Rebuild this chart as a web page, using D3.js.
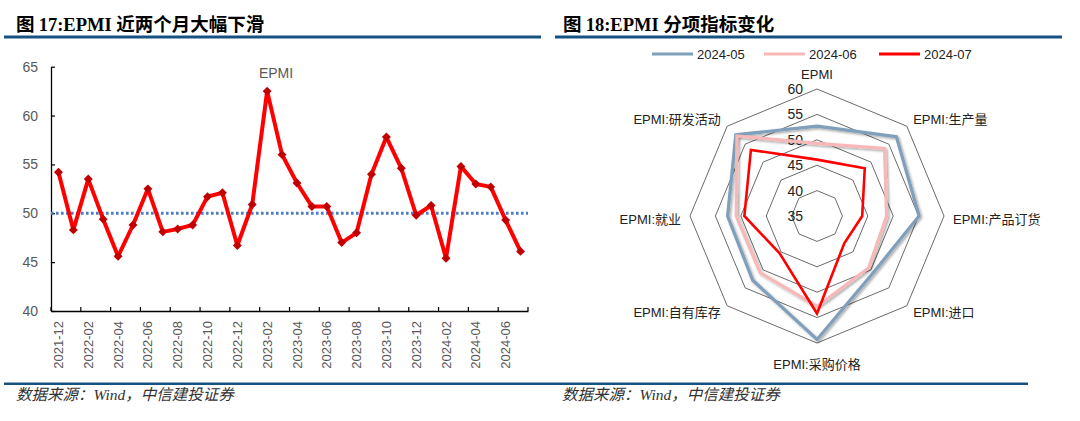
<!DOCTYPE html>
<html><head><meta charset="utf-8">
<script src="https://cdn.jsdelivr.net/npm/d3@7"></script>
<style>
body{margin:0;background:#fff;}
svg{display:block;}
</style></head>
<body>
<svg id="chart" width="1080" height="421"></svg>
<script>
// ---------- data ----------
const months = ["2021-12","2022-01","2022-02","2022-03","2022-04","2022-05","2022-06","2022-07","2022-08","2022-09","2022-10","2022-11","2022-12",
"2023-01","2023-02","2023-03","2023-04","2023-05","2023-06","2023-07","2023-08","2023-09","2023-10","2023-11","2023-12",
"2024-01","2024-02","2024-03","2024-04","2024-05","2024-06","2024-07"];
const epmi = [54.2,48.3,53.5,49.4,45.6,48.8,52.5,48.1,48.4,48.8,51.7,52.1,46.7,50.9,62.5,56.0,53.1,50.7,50.7,47.0,48.0,54.0,57.8,54.6,49.8,50.8,45.4,54.8,53.0,52.7,49.3,46.1];
const yTicks = [40,45,50,55,60,65];
const refLine = 50;

const radarCats = ["EPMI","EPMI:生产量","EPMI:产品订货","EPMI:进口","EPMI:采购价格","EPMI:自有库存","EPMI:就业","EPMI:研发活动"];
const radarSeries = ["2024-05","2024-06","2024-07"];
const may24 = [52.7,57.1,55.1,50.7,59.3,52.9,52.6,57.6];
const jun24 = [49.3,53.8,48.7,49.4,52.8,50.8,50.9,57.3];
const jul24 = [46.1,48.3,43.9,42.6,54.2,45.4,49.3,53.4];
const radarTicks = [35,40,45,50,55,60];

// ---------- setup ----------
const svg = d3.select("#chart");
const CJK = "'Noto Sans CJK SC','Noto Sans',sans-serif";
const SANS = "'Liberation Sans',Arial,'Noto Sans CJK SC',sans-serif";
const SERIF = "'Liberation Serif','Times New Roman',serif";
const frameBlue = "#165281";

const defs = svg.append("defs");
const f = defs.append("filter").attr("id","shadow").attr("x","-20%").attr("y","-20%").attr("width","140%").attr("height","140%");
f.append("feDropShadow").attr("dx",1.5).attr("dy",1.5).attr("stdDeviation",1.2).attr("flood-color","#000").attr("flood-opacity",0.35);

// titles
function title(x, num, rest){
  const t = svg.append("text").attr("x",x).attr("y",31).attr("font-size",18.5).attr("font-weight","bold").attr("fill","#000");
  t.append("tspan").attr("font-family",CJK).text("图 ");
  t.append("tspan").attr("font-family",SERIF).text(num);
  t.append("tspan").attr("font-family",CJK).text(rest);
}
title(16,"17:EPMI ","近两个月大幅下滑");
title(563,"18:EPMI ","分项指标变化");
svg.append("rect").attr("x",4).attr("y",35.5).attr("width",537).attr("height",3).attr("fill",frameBlue);
svg.append("rect").attr("x",555).attr("y",35.5).attr("width",507).attr("height",3).attr("fill",frameBlue);
svg.append("rect").attr("x",4).attr("y",382.5).attr("width",1024).attr("height",2.5).attr("fill",frameBlue);

function source(x){
  svg.append("text").attr("x",x).attr("y",400).attr("font-size",15.5).attr("font-style","italic")
    .attr("font-family","'Liberation Serif','Noto Sans CJK SC',serif").attr("fill","#333")
    .text("数据来源：Wind，中信建投证券");
}
source(16); source(562);

// ---------- left line chart ----------
const x = d3.scaleBand().domain(months).range([51,528]);
const y = d3.scaleLinear().domain([40,65]).range([311,66.7]);
const gL = svg.append("g");

// y axis
const yAx = gL.append("g").attr("transform","translate(51,0)")
  .call(d3.axisLeft(y).tickValues(yTicks).tickSize(-4).tickSizeOuter(0).tickPadding(13));
yAx.select(".domain").attr("stroke","#000").attr("stroke-width",1.3);
yAx.selectAll(".tick line").attr("stroke","#000").attr("stroke-width",1.2);
yAx.selectAll("text").attr("font-family",SANS).attr("font-size",14).attr("fill","#595959");

// x axis
const labelMonths = months.filter((m,i)=>i%2===0);
const xAx = gL.append("g").attr("transform","translate(0,311)")
  .call(d3.axisBottom(x).tickValues(labelMonths).tickSize(0).tickSizeOuter(0));
xAx.select(".domain").attr("stroke","#000").attr("stroke-width",1.3);
xAx.selectAll("text").attr("font-family",SANS).attr("font-size",13).attr("fill","#595959")
  .attr("transform","rotate(-90)").attr("text-anchor","end").attr("x",-10).attr("y",0).attr("dy","0.35em");
const tickPos = labelMonths.map(m=>x(m)).concat([x.range()[1]]);
gL.append("g").selectAll("line").data(tickPos).join("line")
  .attr("x1",d=>d).attr("x2",d=>d).attr("y1",311).attr("y2",307).attr("stroke","#000").attr("stroke-width",1.2);

// reference line at 50
gL.append("line").attr("x1",x.range()[0]).attr("x2",x.range()[1]).attr("y1",y(refLine)).attr("y2",y(refLine))
  .attr("stroke","#4F7EC0").attr("stroke-width",3).attr("stroke-dasharray","2.6,2.4");

// line
const cx = m=>x(m)+x.bandwidth()/2;
const lineGen = d3.line().x((d,i)=>cx(months[i])).y(d=>y(d));
gL.append("path").datum(epmi).attr("d",lineGen).attr("fill","none").attr("stroke","#FF0000").attr("stroke-width",4).attr("stroke-linejoin","round");
const diamond = d3.symbol(d3.symbolSquare, 40);
gL.append("g").selectAll("path").data(epmi).join("path")
  .attr("d",diamond).attr("fill","#C00000")
  .attr("transform",(d,i)=>`translate(${cx(months[i])},${y(d)}) rotate(45)`);

gL.append("text").attr("x",276).attr("y",78).attr("text-anchor","middle").attr("font-family",SANS).attr("font-size",14).attr("fill","#595959").text("EPMI");

// ---------- right radar chart ----------
const rcx = 817, rcy = 216;
const r = d3.scaleLinear().domain([35,60]).range([0,127]);
const ang = d3.scalePoint().domain(radarCats).range([0, 2*Math.PI*(7/8)]);
const px = (c,v)=>rcx + r(v)*Math.sin(ang(c));
const py = (c,v)=>rcy - r(v)*Math.cos(ang(c));
const gR = svg.append("g");

// rings
radarTicks.filter(t=>t>35).forEach(t=>{
  gR.append("polygon").attr("points",radarCats.map(c=>[px(c,t),py(c,t)].join(",")).join(" "))
    .attr("fill","none").attr("stroke","#595959").attr("stroke-width",0.9);
});
// ring labels
gR.append("g").selectAll("text").data(radarTicks).join("text")
  .attr("x",rcx-14).attr("y",d=>rcy - r(d)).attr("dy","0.35em").attr("text-anchor","end")
  .attr("font-family",SANS).attr("font-size",14).attr("fill","#222").text(d=>d);

// series
const seriesData = [may24, jun24, jul24];
const seriesColor = ["#7F9FBA","#F9B8B8","#FF0000"];
const seriesWidth = [3.2,3.2,2.6];
seriesData.forEach((vals,k)=>{
  gR.append("polygon").attr("points",radarCats.map((c,i)=>[px(c,vals[i]),py(c,vals[i])].join(",")).join(" "))
    .attr("fill","none").attr("stroke",seriesColor[k]).attr("stroke-width",seriesWidth[k]).attr("stroke-linejoin","miter")
    .attr("filter",k<2?"url(#shadow)":null);
});

// category labels
gR.append("g").selectAll("text").data(radarCats).join("text")
  .attr("x",(c,i)=>{const a=ang(c); const s=Math.sin(a); return Math.abs(s)<0.01? rcx : rcx + 136*s/Math.max(Math.abs(s),0.70710678)*(Math.abs(s)>0.9?1:0.707);})
  .attr("y",(c,i)=>{const a=ang(c); const co=Math.cos(a); if(Math.abs(Math.sin(a))<0.01) return co>0? rcy-142 : rcy+148; return rcy - 136*co*(Math.abs(co)>0.9?1:0.707)/Math.max(Math.abs(co),0.70710678) + (Math.abs(co)<0.01?3:0);})
  .attr("dy","0.35em")
  .attr("text-anchor",c=>{const s=Math.sin(ang(c)); return Math.abs(s)<0.01?"middle":(s>0?"start":"end");})
  .attr("font-family",SANS).attr("font-size",13).attr("fill","#222").text(d=>d);

// legend
const legX = [652,764,879];
const lg = svg.append("g").selectAll("g").data(radarSeries).join("g").attr("transform",(d,i)=>`translate(${legX[i]},54)`);
lg.append("line").attr("x1",0).attr("x2",41).attr("y1",0).attr("y2",0).attr("stroke",(d,i)=>seriesColor[i]).attr("stroke-width",3);
lg.append("text").attr("x",45).attr("y",0).attr("dy","0.35em").attr("font-family",SANS).attr("font-size",13).attr("fill","#222").text(d=>d);
</script>
</body></html>
